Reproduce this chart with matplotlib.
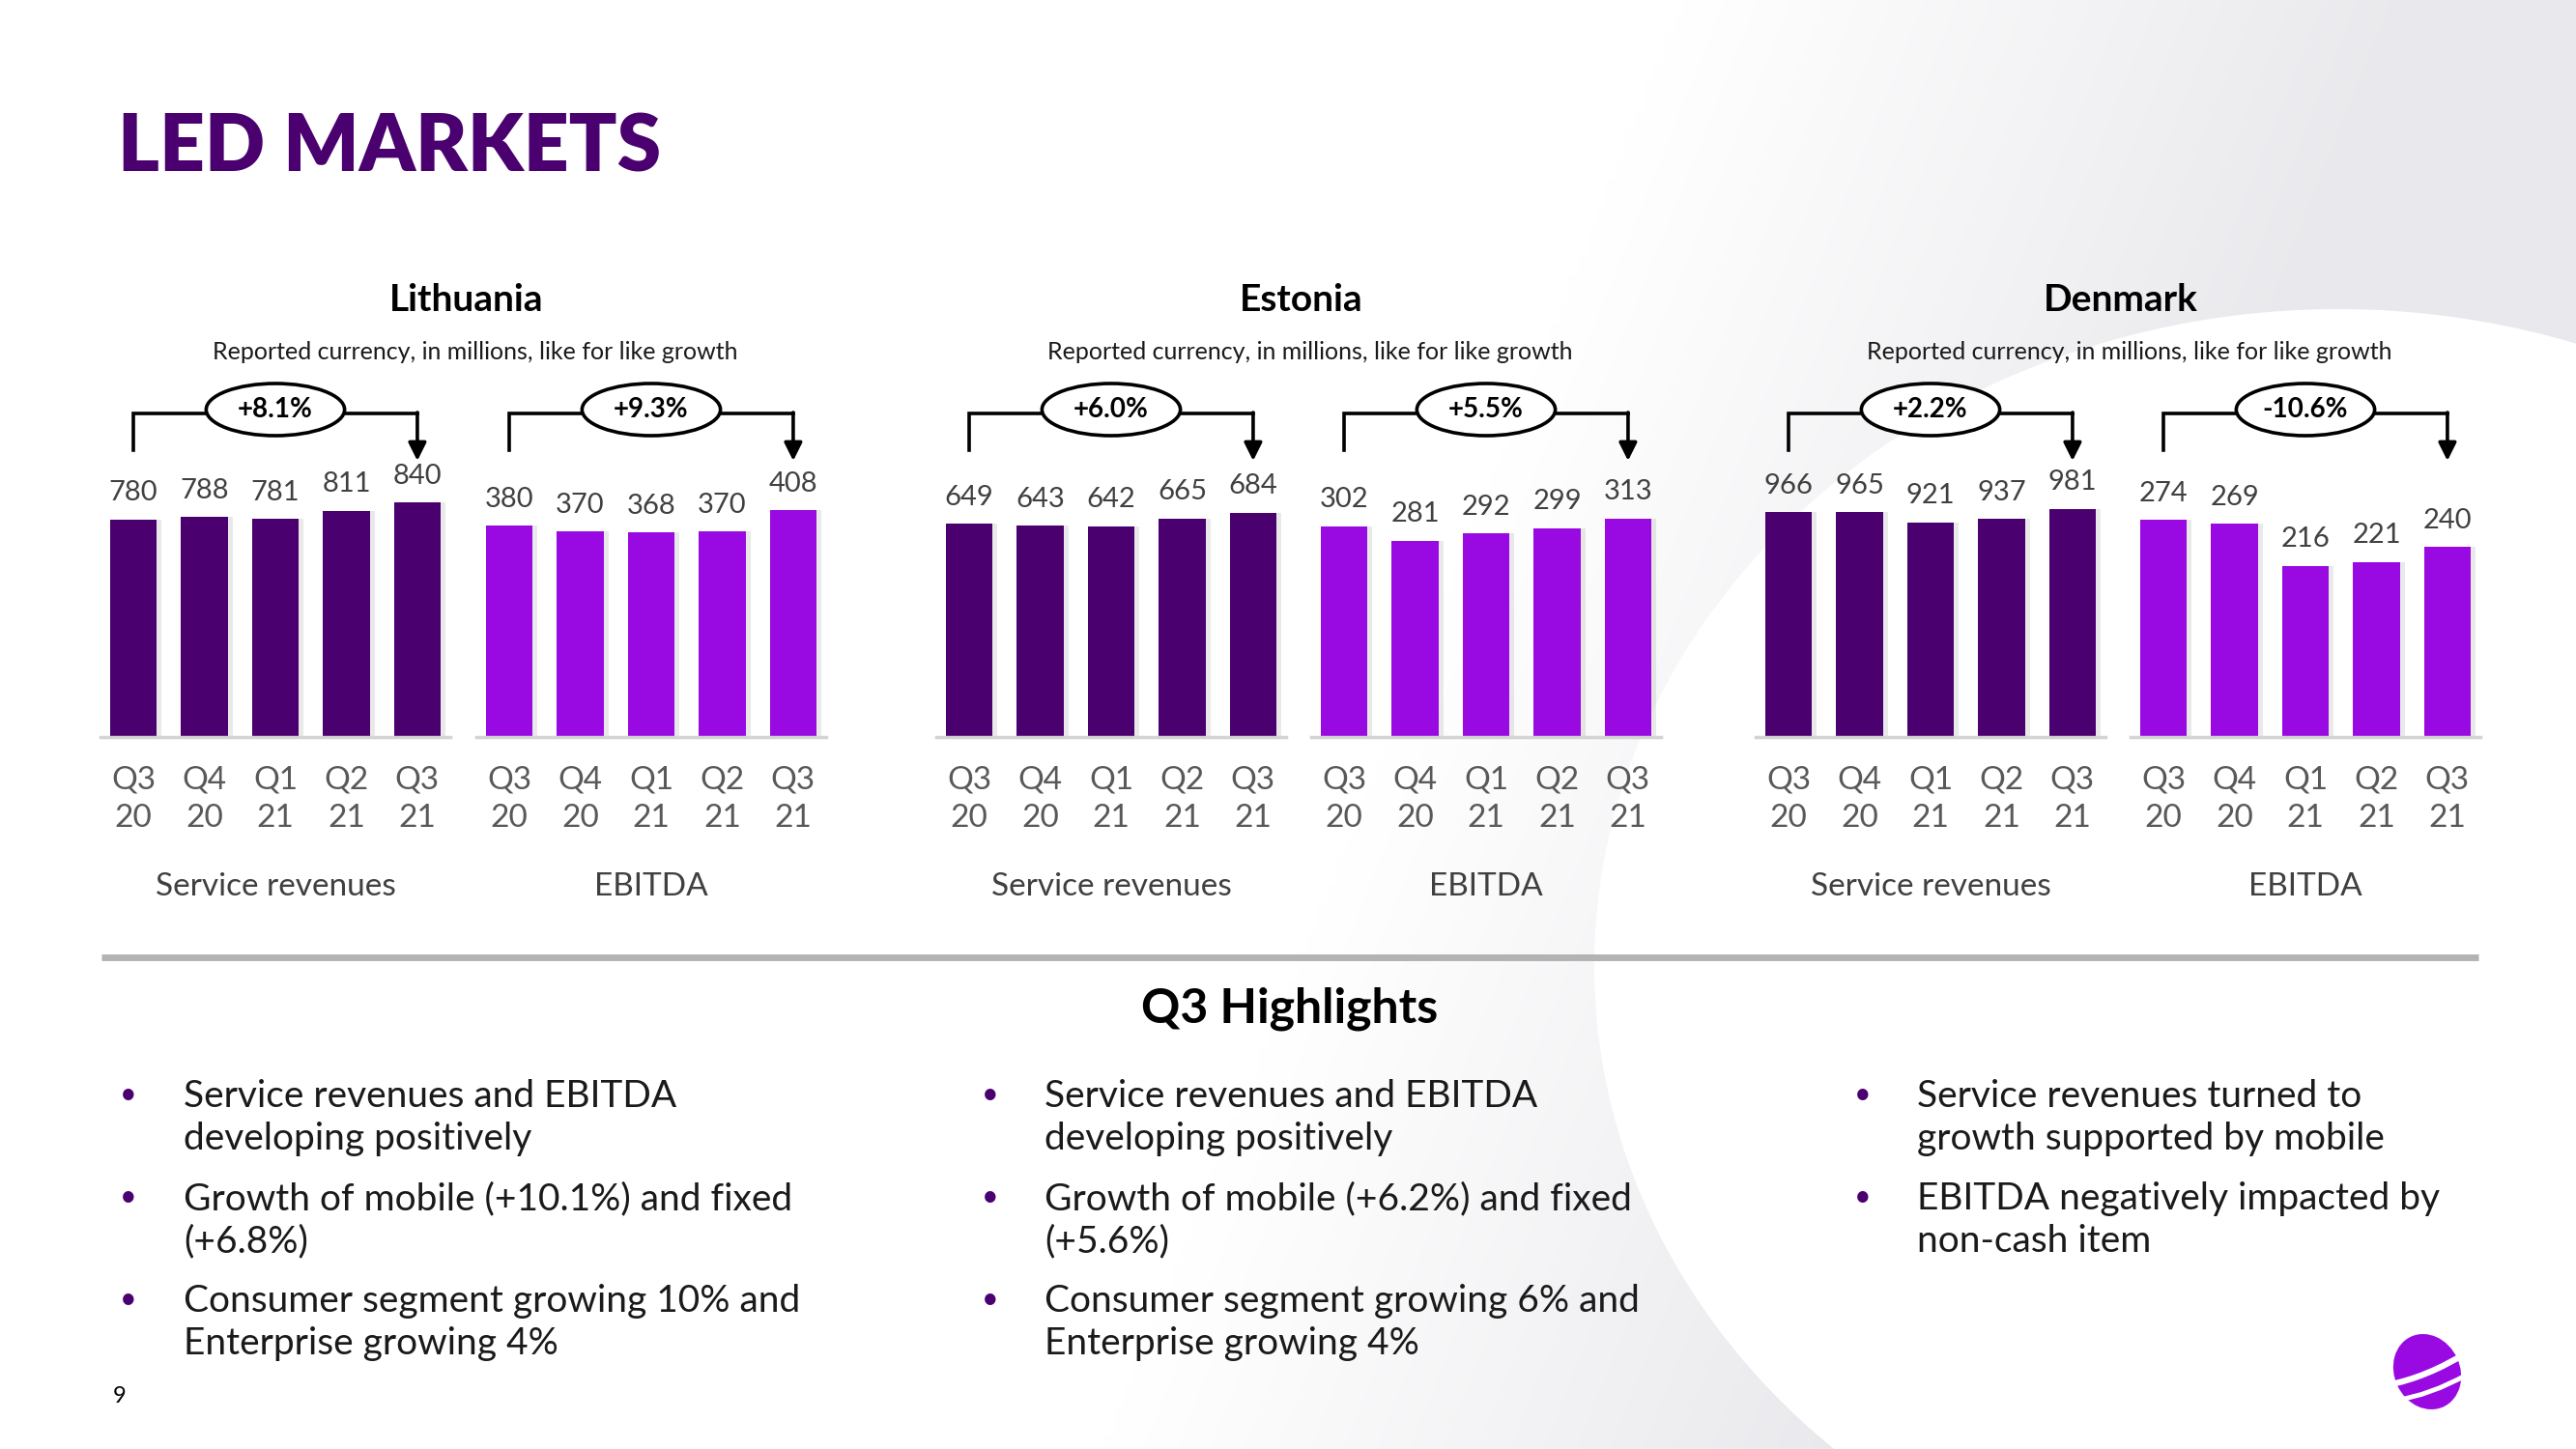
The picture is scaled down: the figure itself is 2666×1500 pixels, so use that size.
import numpy as np
import matplotlib
matplotlib.use('Agg')
import matplotlib.pyplot as plt
from matplotlib.patches import Ellipse, FancyArrowPatch, PathPatch
from matplotlib.path import Path
from matplotlib.transforms import blended_transform_factory

plt.rcParams['font.family'] = ['Lato', 'DejaVu Sans']

#----------------------------------------------------
# Dati
#----------------------------------------------------
quarters = ['Q3\n20', 'Q4\n20', 'Q1\n21', 'Q2\n21', 'Q3\n21']
countries = ['Lithuania', 'Estonia', 'Denmark']

lt_service = [780, 788, 781, 811, 840]
lt_ebitda = [380, 370, 368, 370, 408]
ee_service = [649, 643, 642, 665, 684]
ee_ebitda = [302, 281, 292, 299, 313]
dk_service = [966, 965, 921, 937, 981]
dk_ebitda = [274, 269, 216, 221, 240]

lt_growth = ['+8.1%', '+9.3%']
ee_growth = ['+6.0%', '+5.5%']
dk_growth = ['+2.2%', '-10.6%']

# limite superiore asse y di ogni grafico (scala)
lt_ylim = [900, 452]
ee_ylim = [765, 360]
dk_ylim = [1079, 317]

subtitle = 'Reported currency, in millions, like for like growth'
metrics = ['Service revenues', 'EBITDA']

lt_bullets = [['Service revenues and EBITDA', 'developing positively'],
              ['Growth of mobile (+10.1%) and fixed', '(+6.8%)'],
              ['Consumer segment growing 10% and', 'Enterprise growing 4%']]
ee_bullets = [['Service revenues and EBITDA', 'developing positively'],
              ['Growth of mobile (+6.2%) and fixed', '(+5.6%)'],
              ['Consumer segment growing 6% and', 'Enterprise growing 4%']]
dk_bullets = [['Service revenues turned to', 'growth supported by mobile'],
              ['EBITDA negatively impacted by', 'non-cash item']]

#----------------------------------------------------
# Stile
#----------------------------------------------------
W, H = 2666, 1500
DARK = '#4B0070'
BRIGHT = '#990AE3'
TXT = '#404040'

fig = plt.figure(figsize=(W / 100, H / 100), dpi=100)

# axes di sfondo in pixel (y verso il basso)
bg = fig.add_axes([0, 0, 1, 1])
bg.set_xlim(0, W)
bg.set_ylim(H, 0)
bg.axis('off')

# sfumatura grigia + grande cerchio bianco
gx, gy = np.meshgrid(np.linspace(0, W, 267), np.linspace(0, H, 150))
t = np.clip((gx + 0.4 * gy - 1750) / 750, 0, 1)
grad = np.dstack([1 - 0.085 * t, 1 - 0.085 * t, 1 - 0.07 * t])
bg.imshow(grad, extent=[0, W, H, 0], aspect='auto', interpolation='bilinear', zorder=0)
bg.add_patch(Ellipse((2420, 1000), 1540, 1360, fc='white', ec='none', zorder=0.5))

bg.text(122, 154, 'LED MARKETS', fontsize=59, fontweight='heavy', color=DARK, va='center', ha='left')

#----------------------------------------------------
# Grafici
#----------------------------------------------------
groups = [(lt_service, lt_ebitda, lt_growth, lt_ylim), (ee_service, ee_ebitda, ee_growth, ee_ylim),
          (dk_service, dk_ebitda, dk_growth, dk_ylim)]
lefts = [(94, 483), (959, 1347), (1807, 2195)]
base_y = 763
ax_h = 260
ax_w = 382

for ci, (serv, ebit, growth, ylims) in enumerate(groups):
    pair_axes = []
    for mi, (vals, col) in enumerate([(serv, DARK), (ebit, BRIGHT)]):
        left = lefts[ci][mi]
        ax = fig.add_axes([left / W, 1 - base_y / H, ax_w / W, ax_h / H])
        ax.patch.set_alpha(0)
        x = np.arange(len(vals))
        # ombra
        ax.bar(x + 0.07, vals, width=0.66, color='#8a8a8a', alpha=0.18, zorder=1)
        ax.bar(x, vals, width=0.66, color=col, zorder=2)
        ax.set_xlim(-0.6, len(vals) - 0.4)
        ax.set_ylim(0, ylims[mi])
        ax.plot([-0.47, len(vals) - 0.53], [0, 0], color='#d4d4d4', lw=2.5, zorder=3, clip_on=False)
        for i, v in enumerate(vals):
            ax.annotate(str(v), (i, v), xytext=(0, 10.5), textcoords='offset points',
                        ha='center', va='bottom', fontsize=21, color=TXT)
        ax.set_xticks(x)
        ax.set_xticklabels(quarters, fontsize=24, color='#595959', linespacing=1.42)
        ax.tick_params(axis='x', length=0, pad=21)
        ax.set_yticks([])
        for s in ax.spines.values():
            s.set_visible(False)

        tr = blended_transform_factory(ax.transData, bg.transData)
        ax.text(2, 918, metrics[mi], transform=tr, ha='center', va='center', fontsize=24, color=TXT)

        # parentesi con crescita
        yl = 428
        ax.plot([0, 0, 4], [466, yl, yl], transform=tr, color='black', lw=2.6, clip_on=False, zorder=4,
                solid_joinstyle='miter')
        ax.add_patch(FancyArrowPatch((4, yl - 1), (4, 477), transform=tr, arrowstyle='-|>',
                                     mutation_scale=28, color='black', lw=2.6, clip_on=False, zorder=4,
                                     shrinkA=0, shrinkB=0))
        ax.add_patch(Ellipse((2, 424), 1.95, 54, transform=tr, fc='white', ec='black', lw=2.6,
                             clip_on=False, zorder=5))
        ax.text(2, 424, growth[mi], transform=tr, ha='center', va='center', fontsize=20,
                fontweight='bold', color='black', zorder=6)
        pair_axes.append(ax)

    # titolo paese e sottotitolo
    a0, a1 = pair_axes
    xc = (a0.get_position().x0 + a1.get_position().x1) / 2 * W
    bg.text(xc + 3, 311, countries[ci], ha='center', va='center', fontsize=28, fontweight='bold', color='black')
    bg.text(xc + 12, 364, subtitle, ha='center', va='center', fontsize=18, color='#1a1a1a')

#----------------------------------------------------
# Divisore e highlights
#----------------------------------------------------
bg.plot([105, 2565], [991, 991], color='#b3b3b3', lw=5, solid_capstyle='butt', zorder=2)
bg.text(1335, 1044, 'Q3 Highlights', ha='center', va='center', fontsize=36, fontweight='bold', color='black')

cols = [(133, 190, lt_bullets), (1025, 1081, ee_bullets), (1928, 1984, dk_bullets)]
for bx, tx, items in cols:
    y = 1135
    for item in items:
        bg.text(bx, y - 2, '\u2022', ha='center', va='center', fontsize=22, color=DARK)
        for line in item:
            bg.text(tx, y, line, ha='left', va='center', fontsize=28, color='#1a1a1a')
            y += 44
        y += 18

bg.text(124, 1445, '9', ha='center', va='center', fontsize=17, color='black')

# logo
bg.add_patch(Ellipse((2512, 1420), 68, 80, angle=-25, fc=BRIGHT, ec='none', zorder=3))
for p0, p1, p2, lw in [((2470, 1434), (2512, 1426), (2555, 1399), 4.5),
                       ((2478, 1450), (2516, 1444), (2553, 1423), 3.5)]:
    band = Path([p0, p1, p2], [Path.MOVETO, Path.CURVE3, Path.CURVE3])
    bg.add_patch(PathPatch(band, fc='none', ec='white', lw=lw, zorder=4))

fig.savefig('out.png', dpi=100)
